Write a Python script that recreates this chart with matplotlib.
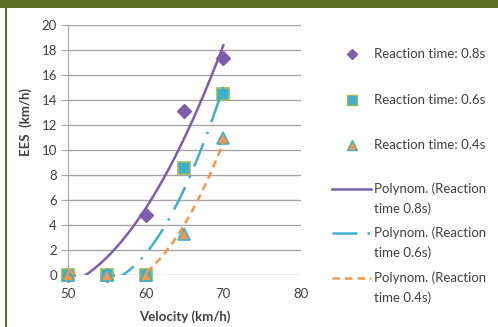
import numpy as np
import matplotlib
matplotlib.use("Agg")
import matplotlib.pyplot as plt
from matplotlib.patches import Rectangle
from matplotlib.lines import Line2D

plt.rcParams['font.family'] = ['Lato', 'DejaVu Sans']

velocity = [50, 55, 60, 65, 70]
ees_08 = [0, 0, 4.8, 13.1, 17.4]
ees_06 = [0, 0, 0, 8.6, 14.5]
ees_04 = [0, 0, 0, 3.3, 11.0]

x_ticks = [50, 60, 70, 80]
y_ticks = list(range(0, 21, 2))

purple = '#7b5fae'
cyan = '#3fb0cc'
green = '#9bbb59'
orange = '#f79646'
olive = '#5b6b21'
txt = '#404040'

W, H = 498, 327
fig = plt.figure(figsize=(W/100, H/100), dpi=100)
fig.patch.set_facecolor('white')
fig.add_artist(Rectangle((0, 1 - 8/H), 1, 8/H, transform=fig.transFigure,
                         facecolor=olive, edgecolor='none'))
fig.add_artist(Rectangle((5/W, 0), 2/W, 1, transform=fig.transFigure,
                         facecolor=olive, edgecolor='none'))

ax = fig.add_axes([68/W, 52/H, 233/W, 250/H])
ax.set_xlim(50, 80)
ax.set_ylim(0, 20)
ax.set_xticks(x_ticks)
ax.set_yticks(y_ticks)
ax.grid(axis='y', color='#a6a6a6', linewidth=1)
ax.set_axisbelow(True)
for s in ['top', 'right', 'bottom']:
    ax.spines[s].set_visible(False)
ax.spines['left'].set_color('#a6a6a6')
ax.tick_params(axis='y', length=5, color='#a6a6a6', labelsize=9.5, labelcolor=txt, pad=3)
ax.tick_params(axis='x', length=0, labelsize=9.5, labelcolor=txt, pad=9)
ax.set_xlabel('Velocity (km/h)', fontsize=9.5, fontweight='bold', color=txt, labelpad=8)
ax.set_ylabel('EES  (km/h)', fontsize=9.5, fontweight='bold', color=txt)
ax.yaxis.set_label_coords(-0.155, 0.61)

xs = np.linspace(50, 70, 200)
v = np.array(velocity, dtype=float)
p08 = np.polyfit(v, ees_08, 2)
p06 = np.polyfit(v, ees_06, 2)
p04 = np.polyfit(v, ees_04, 2)

ax.plot(velocity, ees_08, linestyle='none', marker='D', markersize=7,
        color=purple, markeredgecolor=purple, zorder=3, clip_on=False)
ax.plot(velocity, ees_06, linestyle='none', marker='s', markersize=8.5,
        markerfacecolor=cyan, markeredgecolor=green, markeredgewidth=1.2,
        zorder=3, clip_on=False)
ax.plot(velocity, ees_04, linestyle='none', marker='^', markersize=8.5,
        markerfacecolor=orange, markeredgecolor=cyan, markeredgewidth=1.2,
        zorder=3, clip_on=False)

ax.plot(xs, np.polyval(p08, xs), color=purple, linewidth=1.8, zorder=4)
ax.plot(xs, np.polyval(p06, xs), color=cyan, linewidth=1.8,
        dashes=(10, 4, 1, 4), zorder=4)
ax.plot(xs, np.polyval(p04, xs), color=orange, linewidth=1.8,
        dashes=(3, 2), zorder=4)

# manual legend (pixel positions measured from the top-left)
def fx(px):
    return px / W

def fy(py):
    return 1 - py / H

legend_text = ['Reaction time: 0.8s', 'Reaction time: 0.6s', 'Reaction time: 0.4s',
               'Polynom. (Reaction\ntime 0.8s)', 'Polynom. (Reaction\ntime 0.6s)',
               'Polynom. (Reaction\ntime 0.4s)']
legend_y = [54, 100, 145, 189, 233, 278]
marker_kw = [
    dict(marker='D', markersize=5.5, color=purple),
    dict(marker='s', markersize=7, markerfacecolor=cyan, markeredgecolor=green),
    dict(marker='^', markersize=7, markerfacecolor=orange, markeredgecolor=cyan),
]
for i in range(3):
    fig.add_artist(Line2D([fx(352)], [fy(legend_y[i])], linestyle='none',
                          transform=fig.transFigure, **marker_kw[i]))
line_kw = [
    dict(color=purple, linewidth=1.8),
    dict(color=cyan, linewidth=1.8, dashes=(10, 4, 1, 4)),
    dict(color=orange, linewidth=1.8, dashes=(3, 2)),
]
for i in range(3):
    yy = fy(legend_y[3 + i])
    fig.add_artist(Line2D([fx(332), fx(371)], [yy, yy],
                          transform=fig.transFigure, **line_kw[i]))

for i, t in enumerate(legend_text):
    if i < 3:
        fig.text(fx(374), fy(legend_y[i]), t, fontsize=9.5, color=txt,
                 va='center', ha='left')
    else:
        first, second = t.split('\n')
        fig.text(fx(374), fy(legend_y[i]), first, fontsize=9.5, color=txt,
                 va='center', ha='left')
        fig.text(fx(374), fy(legend_y[i] + 20), second, fontsize=9.5, color=txt,
                 va='center', ha='left')

fig.savefig('out.png', dpi=100, facecolor='white')
